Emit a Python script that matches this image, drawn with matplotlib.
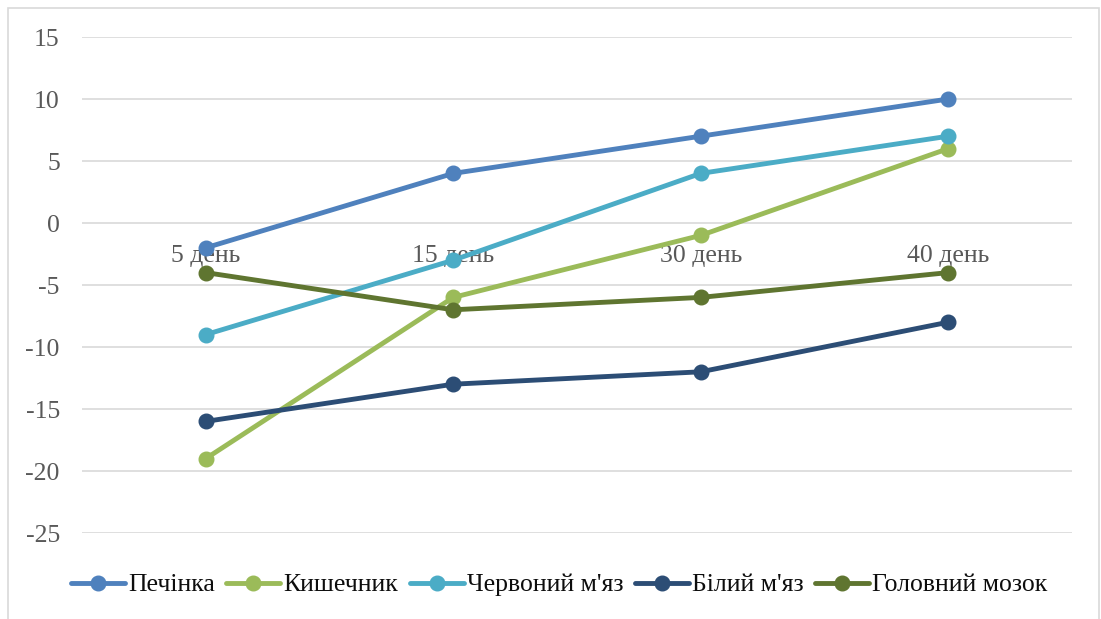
import matplotlib
matplotlib.use("Agg")
import matplotlib.pyplot as plt
from matplotlib.patches import Rectangle

plt.rcParams['font.family'] = ['Liberation Serif', 'DejaVu Serif']

categories = ["5 день", "15 день", "30 день", "40 день"]
series_names = ["Печінка", "Кишечник", "Червоний м'яз", "Білий м'яз", "Головний мозок"]
liver = [-2, 4, 7, 10]
intestine = [-19, -6, -1, 6]
red_muscle = [-9, -3, 4, 7]
white_muscle = [-16, -13, -12, -8]
brain = [-4, -7, -6, -4]
series_values = [liver, intestine, red_muscle, white_muscle, brain]
colors = ["#4F81BD", "#9BBB59", "#4BACC6", "#2C4D75", "#5F7530"]
y_ticks = [15, 10, 5, 0, -5, -10, -15, -20, -25]

W, H = 1101, 619
fig = plt.figure(figsize=(W / 100, H / 100), dpi=100)
fig.patches.append(Rectangle((8 / W, -0.01), (1100 - 8) / W - 1 / W, 1 - 8 / H + 0.01,
                             transform=fig.transFigure, fill=False,
                             edgecolor="#D9D9D9", linewidth=1.2))

ax = fig.add_axes([82 / W, 1 - 533 / H, (1072 - 82) / W, (533 - 37) / H])
ax.set_ylim(-25, 15)
ax.set_xlim(-0.5, len(categories) - 0.5)
ax.set_yticks(y_ticks)
ax.set_yticklabels([str(t) for t in y_ticks])
ax.tick_params(axis='y', length=0, pad=16, labelsize=18.5, labelcolor="#595959")
ax.set_xticks([])
for s in ax.spines.values():
    s.set_visible(False)
ax.grid(axis='y', color="#D9D9D9", linewidth=1.2)
ax.set_axisbelow(True)

x = list(range(len(categories)))
for name, vals, c in zip(series_names, series_values, colors):
    ax.plot(x, vals, color=c, linewidth=3.5, marker='o', markersize=10.5,
            label=name, solid_capstyle='round', zorder=3)

# category labels sit next to the horizontal axis, which crosses at zero
for xi, cat in zip(x, categories):
    ax.annotate(cat, xy=(xi, 0), xytext=(0, -15.5), textcoords='offset points',
                ha='center', va='top', fontsize=18.5, color="#595959", zorder=2)

fig.legend(loc='center', bbox_to_anchor=(559 / W, 1 - 585 / H), ncol=5,
           frameon=False, fontsize=18.5, handlelength=2.1, handletextpad=0.12,
           columnspacing=0.45, borderaxespad=0, labelcolor="#0D0D0D")

fig.savefig("out.png", dpi=100)
